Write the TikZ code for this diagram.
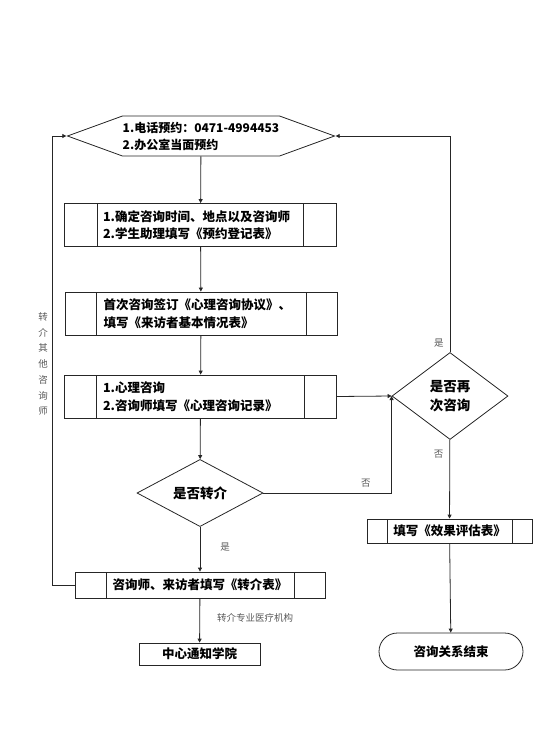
\documentclass[tikz,border=0pt]{standalone}
\usepackage{fontspec}
\newfontfamily\cjk{Noto Sans CJK SC}
\usetikzlibrary{shapes.geometric, shapes.symbols, shapes.misc, arrows.meta}

\begin{document}
\begin{tikzpicture}[x=1pt, y=-1pt,
  subbox/.style={draw=black!85, line width=0.8pt, inner sep=0pt,
                 minimum width=272pt, minimum height=43pt,
                 font=\cjk\bfseries\fontsize{12.5}{17.5}\selectfont,
                 path picture={\draw[black!85, line width=0.8pt]
                   ([xshift=#1]path picture bounding box.north west) --
                   ([xshift=#1]path picture bounding box.south west)
                   ([xshift=-#1]path picture bounding box.north east) --
                   ([xshift=-#1]path picture bounding box.south east);}},
  plain/.style={draw=black!85, line width=0.8pt, inner sep=0pt,
                font=\cjk\bfseries\fontsize{12.5}{17}\selectfont},
  decision/.style={diamond, draw=black!85, line width=0.8pt, inner sep=0pt,
                   font=\cjk\bfseries\fontsize{13.5}{19}\selectfont, align=center},
  arrow/.style={-{Triangle[length=4pt, width=4pt]}, line width=0.8pt, black!85},
  note/.style={font=\cjk\fontsize{9.5}{14.7}\selectfont, text=black!65, inner sep=0pt}
]
\useasboundingbox (0,0) rectangle (554,756);

\node[signal, signal to=east and west, signal pointer angle=40,
      draw=black!85, line width=0.8pt, inner sep=0pt,
      minimum width=267pt, minimum height=40pt,
      font=\cjk\bfseries\fontsize{12}{17}\selectfont,
      align=left] (call) at (201,136)
      {1.电话预约：0471-4994453\\2.办公室当面预约};
\node[subbox=33pt, text width=195pt, align=left] (book) at (200.5,225)
      {1.确定咨询时间、地点以及咨询师\\2.学生助理填写《预约登记表》};
\node[subbox=31pt, text width=195pt, align=left] (sign) at (201,313.5)
      {首次咨询签订《心理咨询协议》、\\填写《来访者基本情况表》};
\node[subbox=32pt, text width=195pt, align=left] (consult) at (200.5,396.5)
      {1.心理咨询\\2.咨询师填写《心理咨询记录》};
\node[decision, minimum width=126pt, minimum height=60pt] (refer) at (200,493) {是否转介};
\node[subbox=31pt, minimum width=250pt, minimum height=26pt] (transfer) at (200,585)
      {咨询师、来访者填写《转介表》};
\node[plain, minimum width=121pt, minimum height=22pt] (notify) at (199.5,654) {中心通知学院};
\node[decision, minimum width=116pt, minimum height=87pt] (again) at (450,396) {是否再\\次咨询};
\node[subbox=20pt, minimum width=165pt, minimum height=24pt] (assess) at (449.5,531)
      {填写《效果评估表》};
\node[plain, rounded rectangle, minimum width=144pt, minimum height=37pt] (finish) at (451,651.5)
      {咨询关系结束};

\draw[arrow] (call) -- (book);
\draw[arrow] (book) -- (sign);
\draw[arrow] (sign) -- (consult);
\draw[arrow] (consult) -- (refer);
\draw[arrow] (consult.east) -- (again.west);
\draw[arrow] (refer.east) -| node[pos=0.4, above=5pt, note]{否} (again.west);
\draw[arrow] (refer) -- node[right=20pt, pos=0.45, note]{是} (transfer);
\draw[arrow] (transfer) -- node[right=17pt, pos=0.45, note]{转介专业医疗机构} (notify);
\draw[arrow] (transfer.west) -- ++(-22,0) |- (call.west);
\draw[arrow] (again.north) |- node[pos=0.02, left=6pt, note]{是} (call.east);
\draw[arrow] (again) -- node[pos=0.18, left=6pt, note]{否} (assess);
\draw[arrow] (assess) -- (finish);

\node[note, align=center] (other) at (43,364)
     {转\\[1pt]介\\[1pt]其\\[1pt]他\\[1pt]咨\\[1pt]询\\[1pt]师};

\end{tikzpicture}
\end{document}
